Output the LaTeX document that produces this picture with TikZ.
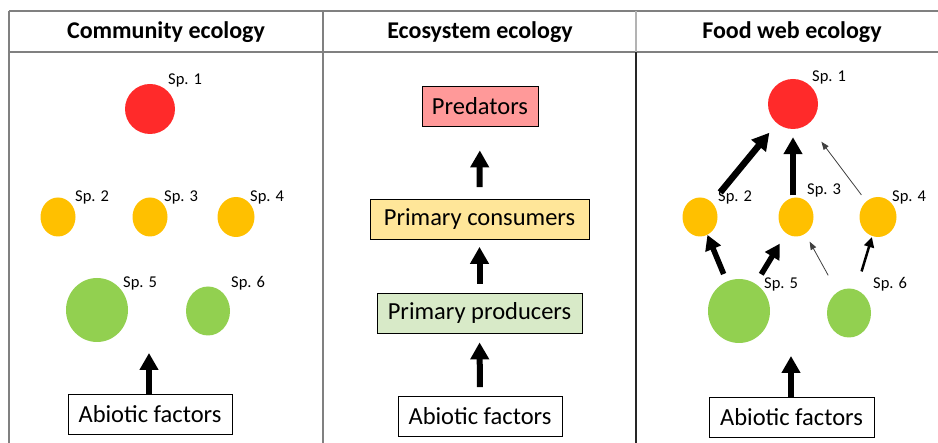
\documentclass[tikz,border=0pt]{standalone}
\usepackage{fontspec}
\setmainfont{Carlito}
\usetikzlibrary{arrows.meta,shapes.geometric}
\definecolor{spred}{HTML}{FF2A2A}
\definecolor{spyel}{HTML}{FFC000}
\definecolor{spgrn}{HTML}{92D050}
\definecolor{predfill}{HTML}{FF9999}
\definecolor{consfill}{HTML}{FFE699}
\definecolor{prodfill}{HTML}{D8EAC8}
\definecolor{gridgray}{HTML}{808080}
\tikzset{
  redsp/.style={circle, fill=spred, inner sep=0pt, minimum size=50pt},
  yelsp/.style={ellipse, fill=spyel, inner sep=0pt, minimum width=35pt, minimum height=39pt},
  yelspb/.style={ellipse, fill=spyel, inner sep=0pt, minimum width=37pt, minimum height=40pt},
  bigsp/.style={ellipse, fill=spgrn, inner sep=0pt, minimum width=62pt, minimum height=64pt},
  smallsp/.style={ellipse, fill=spgrn, inner sep=0pt, minimum width=44pt, minimum height=49pt},
  splabel/.style={anchor=west, inner sep=0pt, font=\fontsize{16.5}{16.5}\selectfont},
  header/.style={font=\fontsize{24}{24}\selectfont\bfseries, inner sep=0pt},
  box/.style={draw=black, line width=0.8pt, inner sep=0pt, font=\fontsize{24.5}{24.5}\selectfont, minimum height=40pt},
  bigarrow/.style={line width=6pt, -{Triangle[length=17pt,width=18pt]}},
  medarrow/.style={line width=2.5pt, -{Triangle[length=10pt,width=10pt]}},
  thinarrow/.style={line width=0.8pt, draw=black!75, -{Triangle[length=8pt,width=6pt]}},
}
\begin{document}
\begin{tikzpicture}[x=1pt, y=-1pt]
\useasboundingbox (0,0) rectangle (938,443);
% grid
\draw[gridgray, line width=1.5pt] (9,11) -- (938,11);
\draw[gridgray, line width=1.5pt] (9,52) -- (938,52);
\draw[gridgray, line width=1.3pt] (9,11) -- (9,443);
\draw[gridgray, line width=1.3pt] (323,11) -- (323,443);
\draw[gridgray!60, line width=1.3pt] (636,11) -- (636,52);
\draw[black!85, line width=2pt] (636,52) -- (636,443);
% headers
\node[header] (h1) at (166,32) {Community ecology};
\node[header] (h2) at (480,32) {Ecosystem ecology};
\node[header] (h3) at (792,32) {Food web ecology};

% ---------- Community ecology ----------
\node[redsp] (c1) at (150,109) {};
\node[yelsp] (c2) at (58,217) {};
\node[yelsp] (c3) at (150,217) {};
\node[yelspb] (c4) at (236,217) {};
\node[bigsp] (c5) at (97,310) {};
\node[smallsp] (c6) at (208,311) {};
\node[splabel] (cl1) at (168,80) {Sp. 1};
\node[splabel] (cl2) at (75,197) {Sp. 2};
\node[splabel] (cl3) at (164,197) {Sp. 3};
\node[splabel] (cl4) at (250,197) {Sp. 4};
\node[splabel] (cl5) at (123,283) {Sp. 5};
\node[splabel] (cl6) at (231,283) {Sp. 6};
\node[box, minimum width=164pt] (ca) at (150,414) {Abiotic factors};
\coordinate (cat) at (149,353);
\draw[bigarrow] (ca.north -| cat) -- (cat);

% ---------- Ecosystem ecology ----------
\node[box, fill=predfill, minimum width=116pt] (pred) at (480,106) {Predators};
\node[box, fill=consfill, minimum width=219pt] (cons) at (479.5,219.5) {Primary consumers};
\node[box, fill=prodfill, minimum width=205pt] (prod) at (479.5,313) {Primary producers};
\node[box, minimum width=164pt] (ea) at (480,416.5) {Abiotic factors};
\draw[bigarrow, shorten <=9pt, shorten >=9pt] (ea.north) -- (prod.south);
\draw[bigarrow, shorten <=9pt, shorten >=7pt] (prod.north) -- (cons.south);
\draw[bigarrow, shorten <=12pt, shorten >=24pt] (cons.north) -- (pred.south);

% ---------- Food web ecology ----------
\node[redsp] (f1) at (793,104) {};
\node[yelsp] (f2) at (700,217) {};
\node[yelsp] (f3) at (796,217) {};
\node[yelspb] (f4) at (878,217) {};
\node[bigsp] (f5) at (739,311) {};
\node[smallsp] (f6) at (849,313) {};
\node[splabel] (fl1) at (812,77) {Sp. 1};
\node[splabel] (fl2) at (718,197) {Sp. 2};
\node[splabel] (fl3) at (807,190) {Sp. 3};
\node[splabel] (fl4) at (892,197) {Sp. 4};
\node[splabel] (fl5) at (764,284) {Sp. 5};
\node[splabel] (fl6) at (873,284) {Sp. 6};
\node[box, minimum width=165pt] (fa) at (791.5,417) {Abiotic factors};
\coordinate (fat) at (791,356);
\draw[bigarrow] (fa.north -| fat) -- (fat);

\draw[bigarrow, line width=6.5pt, shorten <=13pt, shorten >=12pt] (f2) -- (f1);
\draw[bigarrow, shorten <=2pt, shorten >=8pt] (f3.north -| f1) -- (f1.south);
\draw[thinarrow, shorten <=8pt, shorten >=22pt] (f4) -- (f1);
\draw[bigarrow, line width=5.5pt, -{Triangle[length=15pt,width=16pt]}, shorten <=8pt, shorten >=0pt] (f5) -- (f2);
\draw[bigarrow, line width=5.5pt, -{Triangle[length=15pt,width=16pt]}, shorten <=11pt, shorten >=12pt] (f5) -- (f3);
\draw[thinarrow, shorten <=19pt, shorten >=9pt] (f6) -- (f3);
\draw[medarrow, shorten <=19pt, shorten >=1pt] (f6) -- (f4);
\end{tikzpicture}
\end{document}
